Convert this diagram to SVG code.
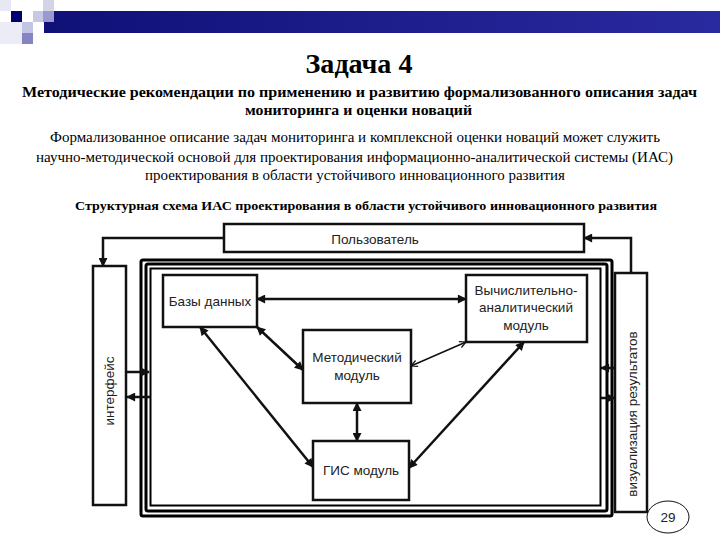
<svg xmlns="http://www.w3.org/2000/svg" width="720" height="540" viewBox="0 0 720 540">
<style>
.hd{font-family:"Liberation Serif","DejaVu Serif",serif;fill:#000}
.lb{font-family:"Liberation Sans","Arial",sans-serif;font-size:13.5px;fill:#222;text-anchor:middle}
.box{fill:#fff;stroke:#111;stroke-width:2.5}
.con{fill:none;stroke:#111;stroke-width:2.5}
.thin{fill:none;stroke:#111;stroke-width:1.5}
.fr{fill:none;stroke:#000}
</style>
<defs>
<linearGradient id="bar" x1="0" y1="0" x2="1" y2="0">
<stop offset="0" stop-color="#101078"/>
<stop offset="1" stop-color="#2a2aa0"/>
</linearGradient>
<marker id="ah" viewBox="0 0 10 10" refX="9" refY="5" markerWidth="10" markerHeight="9" markerUnits="userSpaceOnUse" orient="auto-start-reverse">
<path d="M0,0 L10,5 L0,10 z" fill="#111"/>
</marker>
<marker id="ao" viewBox="0 0 10 10" refX="9" refY="5" markerWidth="9" markerHeight="8" markerUnits="userSpaceOnUse" orient="auto-start-reverse">
<path d="M1,1 L9,5 L1,9" fill="none" stroke="#111" stroke-width="1.5"/>
</marker>
</defs>
<rect width="720" height="540" fill="#fff"/>
<g id="header-decor">
<rect x="0" y="0" width="11" height="11" fill="#e8e8f4"/>
<rect x="11" y="11" width="11" height="11" fill="#00006e"/>
<rect x="33" y="11" width="11" height="11" fill="#c8c8e6"/>
<rect x="43" y="0" width="11" height="11" fill="#d4d4e8"/>
<rect x="0" y="22" width="22" height="22" fill="#ececf6"/>
<rect x="22" y="22" width="11" height="11" fill="#c4c4e4"/>
<rect x="22" y="33" width="11" height="11" fill="#8484c4"/>
<rect x="44" y="11" width="676" height="22" fill="url(#bar)"/>
<rect x="43" y="11" width="11" height="11" fill="#9a9ad0"/>
</g>
<g id="titles">
<text class="hd" x="359" y="73" font-size="27" font-weight="bold" text-anchor="middle" textLength="107" lengthAdjust="spacingAndGlyphs">Задача 4</text>
<text class="hd" x="22" y="97" font-size="15" font-weight="bold" textLength="675" lengthAdjust="spacingAndGlyphs">Методические рекомендации по применению  и развитию формализованного описания задач</text>
<text class="hd" x="245" y="115" font-size="15" font-weight="bold" textLength="227" lengthAdjust="spacingAndGlyphs">мониторинга и оценки новаций</text>
<text class="hd" x="50" y="142" font-size="14" textLength="610" lengthAdjust="spacingAndGlyphs">Формализованное описание задач мониторинга и комплексной оценки новаций может служить</text>
<text class="hd" x="36" y="162" font-size="14" textLength="637" lengthAdjust="spacingAndGlyphs">научно-методической основой для проектирования информационно-аналитической системы (ИАС)</text>
<text class="hd" x="145" y="180" font-size="14" textLength="420" lengthAdjust="spacingAndGlyphs">проектирования в области устойчивого инновационного развития</text>
<text class="hd" x="75" y="210" font-size="12.5" font-weight="bold" textLength="582" lengthAdjust="spacingAndGlyphs">Структурная схема ИАС  проектирования в области устойчивого инновационного развития</text>
</g>
<g id="frame">
<rect class="fr" x="141" y="260" width="471" height="256" rx="2" stroke-width="3"/>
<rect class="fr" x="146" y="264" width="461" height="247" rx="2" stroke-width="3"/>
<rect class="fr" x="150.5" y="268.5" width="450" height="237" stroke-width="2"/>
</g>
<g id="connectors">
<path class="con" d="M224,238 H103 V266" marker-end="url(#ah)"/>
<path class="con" d="M631,273 V238 H584" marker-end="url(#ah)"/>
<path class="con" d="M127,372 H149" marker-end="url(#ah)"/>
<path class="con" d="M150,397 H127" marker-end="url(#ah)"/>
<path class="con" d="M615,368 H601" marker-end="url(#ah)"/>
<path class="con" d="M601,398 H615" marker-end="url(#ah)"/>
<path class="con" d="M257,299 H466" marker-start="url(#ah)" marker-end="url(#ah)"/>
<path class="con" d="M257,327 L303,370" marker-start="url(#ah)" marker-end="url(#ah)"/>
<path class="con" d="M200,327 L313,467" marker-start="url(#ah)" marker-end="url(#ah)"/>
<path class="thin" d="M411,366 L466,342" marker-start="url(#ao)" marker-end="url(#ao)"/>
<path class="con" d="M357,403 V441" marker-start="url(#ah)" marker-end="url(#ah)"/>
<path class="con" d="M524,342 L409,468" marker-start="url(#ah)" marker-end="url(#ah)"/>
</g>
<g id="user">
<rect class="box" x="224" y="224" width="360" height="28" stroke-width="2"/>
<text class="lb" x="375" y="244">Пользователь</text>
</g>
<g id="interface">
<rect class="box" x="93" y="266" width="33" height="239" stroke-width="2"/>
<text class="lb" transform="translate(114,391) rotate(-90)" font-size="14">интерфейс</text>
</g>
<g id="visual">
<rect class="box" x="615" y="273" width="32" height="239" stroke-width="2.5"/>
<text class="lb" transform="translate(637,414) rotate(-90)">визуализация результатов</text>
</g>
<g id="db">
<rect class="box" x="163" y="275" width="94" height="52"/>
<text class="lb" x="210" y="306">Базы данных</text>
</g>
<g id="calc">
<rect class="box" x="466" y="275" width="121" height="67"/>
<text class="lb" x="526" y="295">Вычислительно-</text>
<text class="lb" x="526" y="312">аналитический</text>
<text class="lb" x="526" y="330">модуль</text>
</g>
<g id="method">
<rect class="box" x="303" y="330" width="108" height="73"/>
<text class="lb" x="357" y="362">Методический</text>
<text class="lb" x="357" y="380">модуль</text>
</g>
<g id="gis">
<rect class="box" x="313" y="441" width="96" height="59"/>
<text class="lb" x="361" y="475">ГИС модуль</text>
</g>
<g id="page">
<ellipse cx="668" cy="517" rx="21" ry="16" fill="#fff" stroke="#111" stroke-width="1"/>
<text class="lb" x="668" y="522" font-size="13">29</text>
</g>
</svg>
